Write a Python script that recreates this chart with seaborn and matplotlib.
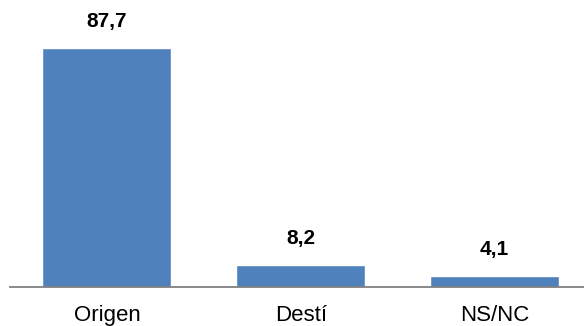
import matplotlib
matplotlib.use("Agg")
import matplotlib.pyplot as plt
import seaborn as sns
import pandas as pd

categories = ["Origen", "Destí", "NS/NC"]
values = [87.7, 8.2, 4.1]
labels = ["87,7", "8,2", "4,1"]

sns.set_theme(style="white")
plt.rcParams["font.family"] = ["Liberation Sans", "DejaVu Sans"]

df = pd.DataFrame({"cat": categories, "val": values})

fig = plt.figure(figsize=(5.84, 3.26), dpi=100)
ax = fig.add_axes([10/584, 39/326, 581.5/584, (326-39-14.5)/326])
sns.barplot(data=df, x="cat", y="val", color="#4F81BD", saturation=1, width=0.665, ax=ax)
ax.set_xlim(-0.5, 2.5)
ax.set_ylim(0, 100)
for i, (v, t) in enumerate(zip(values, labels)):
    ax.annotate(t, (i, v), xytext=(0, 19), textcoords="offset points",
                ha="center", va="center", fontsize=15, fontweight="bold", color="black")
for s in ["top", "right", "left"]:
    ax.spines[s].set_visible(False)
ax.spines["bottom"].set_color("#808080")
ax.spines["bottom"].set_linewidth(1.3)
ax.set_yticks([])
ax.set_xlabel("")
ax.set_ylabel("")
ax.tick_params(axis="x", labelsize=16, colors="black", length=0, pad=13)
fig.savefig("out.png", dpi=100)
